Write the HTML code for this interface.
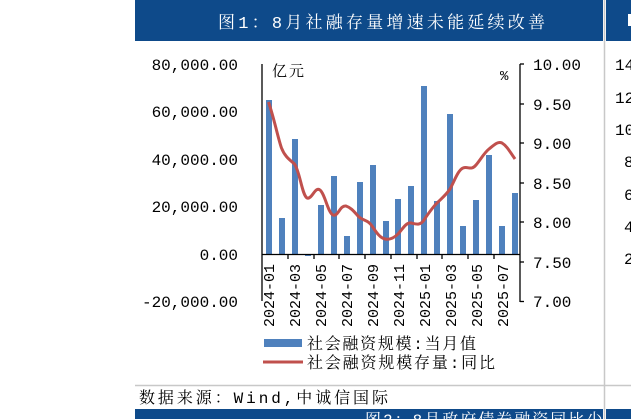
<!DOCTYPE html>
<html><head><meta charset="utf-8"><style>
html,body{margin:0;padding:0;background:#fff;width:631px;height:419px;overflow:hidden}
svg text{font-family:"Liberation Mono","Noto Sans CJK SC",monospace}
svg text.cj{font-family:"Liberation Mono","Noto Serif CJK SC",serif}
</style></head><body>
<svg width="631" height="419" viewBox="0 0 631 419" xmlns="http://www.w3.org/2000/svg">
<rect x="135" y="0" width="468" height="41" fill="#0e4a8a"/>
<rect x="606" y="0" width="25" height="41" fill="#0e4a8a"/>
<rect x="628" y="14" width="4" height="12" fill="#fff"/>
<line x1="604.5" y1="0" x2="604.5" y2="419" stroke="#c8c8c8" stroke-width="1.5"/>
<line x1="135" y1="385.5" x2="631" y2="385.5" stroke="#c8c8c8" stroke-width="1.5"/>
<text class="cj" x="218" y="28" fill="#fff" font-size="17" textLength="327" lengthAdjust="spacing">图1：8月社融存量增速未能延续改善</text>
<g font-size="16" fill="#000" text-anchor="end">
<text x="238" y="70">80,000.00</text>
<text x="238" y="117">60,000.00</text>
<text x="238" y="165">40,000.00</text>
<text x="238" y="212">20,000.00</text>
<text x="238" y="260">0.00</text>
<text x="238" y="307">-20,000.00</text>
</g>
<g font-size="16" fill="#000">
<text x="533" y="70">10.00</text>
<text x="533" y="110">9.50</text>
<text x="533" y="149">9.00</text>
<text x="533" y="189">8.50</text>
<text x="533" y="228">8.00</text>
<text x="533" y="268">7.50</text>
<text x="533" y="307">7.00</text>
<text x="615" y="70">14</text><text x="615" y="103">12</text><text x="615" y="135">10</text><text x="624" y="167">8</text><text x="624" y="200">6</text><text x="624" y="232">4</text><text x="624" y="264">2</text>
</g>
<text class="cj" x="272" y="76" font-size="15" letter-spacing="2">亿元</text>
<text x="500" y="80" font-size="14">%</text>
<g fill="#4f81bd">
<rect x="266" y="100" width="6" height="154"/>
<rect x="279" y="218" width="6" height="36"/>
<rect x="292" y="139" width="6" height="115"/>
<rect x="305" y="254" width="6" height="2"/>
<rect x="318" y="205" width="6" height="49"/>
<rect x="331" y="176" width="6" height="78"/>
<rect x="344" y="236" width="6" height="18"/>
<rect x="357" y="182" width="6" height="72"/>
<rect x="370" y="165" width="6" height="89"/>
<rect x="383" y="221" width="6" height="33"/>
<rect x="395" y="199" width="6" height="55"/>
<rect x="408" y="186" width="6" height="68"/>
<rect x="421" y="86" width="6" height="168"/>
<rect x="434" y="201" width="6" height="53"/>
<rect x="447" y="114" width="6" height="140"/>
<rect x="460" y="226" width="6" height="28"/>
<rect x="473" y="200" width="6" height="54"/>
<rect x="486" y="155" width="6" height="99"/>
<rect x="499" y="226" width="6" height="28"/>
<rect x="512" y="193" width="6" height="61"/>
</g>
<path d="M268.5,102 C274,118 278,138 281.5,148 C285,157 290,160 294.5,164 C300,172 302,195 307,198 C312,200 315,186 320,190 C325,194 328,213 333,215 C338,217 340,205 346,206 C352,208 355,213 359,217 C364,221 368,220 372,226 C376,232 380,238 385,239 C390,240 394,238 398,234 C402,230 406,222 411,223 C416,224 420,226 424,220 C428,214 432,208 437,203 C442,198 446,195 450,189 C454,182 458,170 463,168 C468,166 471,171 476,165 C481,159 484,153 489,149 C494,145 498,141 502,143 C507,146 510,152 515,159" fill="none" stroke="#c0504d" stroke-width="3"/>
<g stroke="#000" stroke-width="1.3" fill="none">
<line x1="262" y1="64" x2="262" y2="301"/>
<line x1="262" y1="254.5" x2="520" y2="254.5"/>
<line x1="520" y1="64" x2="520" y2="302"/>
<line x1="520" y1="64" x2="524" y2="64"/><line x1="520" y1="104" x2="524" y2="104"/><line x1="520" y1="143" x2="524" y2="143"/><line x1="520" y1="183" x2="524" y2="183"/><line x1="520" y1="222" x2="524" y2="222"/><line x1="520" y1="262" x2="524" y2="262"/><line x1="520" y1="301.5" x2="524" y2="301.5"/>
<line x1="288" y1="254" x2="288" y2="259"/><line x1="314" y1="254" x2="314" y2="259"/><line x1="339" y1="254" x2="339" y2="259"/><line x1="365" y1="254" x2="365" y2="259"/><line x1="391" y1="254" x2="391" y2="259"/><line x1="417" y1="254" x2="417" y2="259"/><line x1="442" y1="254" x2="442" y2="259"/><line x1="468" y1="254" x2="468" y2="259"/><line x1="494" y1="254" x2="494" y2="259"/>
</g>
<g font-size="15" fill="#000">
<text transform="translate(274,327) rotate(-90)">2024-01</text>
<text transform="translate(300,327) rotate(-90)">2024-03</text>
<text transform="translate(326,327) rotate(-90)">2024-05</text>
<text transform="translate(352,327) rotate(-90)">2024-07</text>
<text transform="translate(378,327) rotate(-90)">2024-09</text>
<text transform="translate(404,327) rotate(-90)">2024-11</text>
<text transform="translate(430,327) rotate(-90)">2025-01</text>
<text transform="translate(456,327) rotate(-90)">2025-03</text>
<text transform="translate(482,327) rotate(-90)">2025-05</text>
<text transform="translate(508,327) rotate(-90)">2025-07</text>
</g>
<rect x="264" y="339" width="38" height="8" fill="#4f81bd"/>
<line x1="263" y1="362" x2="303" y2="362" stroke="#c0504d" stroke-width="3"/>
<text class="cj" x="307" y="349" font-size="16" textLength="169" lengthAdjust="spacing">社会融资规模:当月值</text>
<text class="cj" x="307" y="368" font-size="16" textLength="188" lengthAdjust="spacing">社会融资规模存量:同比</text>
<text class="cj" x="139" y="403" font-size="16" textLength="249" lengthAdjust="spacing">数据来源：Wind,中诚信国际</text>
<rect x="135" y="409" width="468" height="10" fill="#0e4a8a"/>
<rect x="606" y="409" width="25" height="10" fill="#0e4a8a"/>
<text class="cj" x="365" y="425" font-size="16" fill="#fff" letter-spacing="2">图2：8月政府债券融资同比少</text>
</svg>
</body></html>
